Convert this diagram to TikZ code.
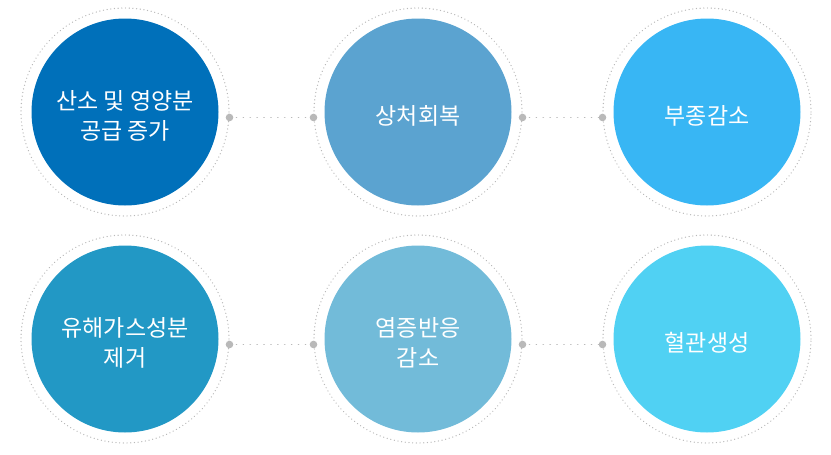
\documentclass[tikz,border=0pt]{standalone}
\usepackage{fontspec}
\newfontfamily\kr{Noto Sans CJK KR}
\usepackage{xcolor}
\usetikzlibrary{positioning}

\definecolor{blueA}{RGB}{0,112,186}
\definecolor{blueB}{RGB}{91,163,208}
\definecolor{blueC}{RGB}{56,182,244}
\definecolor{blueD}{RGB}{34,152,197}
\definecolor{blueE}{RGB}{114,187,217}
\definecolor{blueF}{RGB}{80,209,243}
\definecolor{ringgray}{RGB}{185,185,185}

\begin{document}
\begin{tikzpicture}[
  x=1pt, y=-1pt,
  disc/.style={circle, minimum size=187pt, inner sep=0pt},
  caption/.style={align=center, text=white, inner sep=0pt,
    font=\kr\fontsize{23}{30}\selectfont},
  ring/.style={circle, draw=ringgray, line width=1.3pt, dash pattern=on 0.1pt off 3.6pt,
    line cap=round, minimum size=208pt, inner sep=0pt},
  link/.style={draw=ringgray, line width=1.6pt, dash pattern=on 0.1pt off 6.8pt, line cap=round},
  knob/.style={fill=ringgray}
]
  \useasboundingbox (0,0) rectangle (831,455);

  % top row
  \node[ring] (r1) at (125,112) {};
  \node[ring] (r2) at (418,112) {};
  \node[ring] (r3) at (707,112) {};
  \node[disc, fill=blueA] (oxygen) at (r1) {};
  \node[disc, fill=blueB] (heal) at (r2) {};
  \node[disc, fill=blueC] (edema) at (r3) {};
  \node[caption] (oxygenT) at ([yshift=-4pt]oxygen.center) {산소 및 영양분\\공급 증가};
  \node[caption] (healT) at ([yshift=-4pt]heal.center) {상처회복};
  \node[caption] (edemaT) at ([yshift=-4pt]edema.center) {부종감소};

  % bottom row
  \node[ring] (r4) at (125,339) {};
  \node[ring] (r5) at (418,339) {};
  \node[ring] (r6) at (707,339) {};
  \node[disc, fill=blueD] (gas) at (r4) {};
  \node[disc, fill=blueE] (inflam) at (r5) {};
  \node[disc, fill=blueF] (vessel) at (r6) {};
  \node[caption] (gasT) at ([yshift=-4pt]gas.center) {유해가스성분\\제거};
  \node[caption] (inflamT) at ([yshift=-4pt]inflam.center) {염증반응\\감소};
  \node[caption] (vesselT) at ([yshift=-4pt]vessel.center) {혈관생성};

  % connectors
  \foreach \a/\b in {r1/r2, r2/r3, r4/r5, r5/r6} {
    \coordinate (s) at (\a.-3);
    \coordinate (t) at (\b.183);
    \draw[link] (s) -- (t);
    \fill[knob] (s) circle (3.8pt);
    \fill[knob] (t) circle (3.8pt);
  }
\end{tikzpicture}
\end{document}
